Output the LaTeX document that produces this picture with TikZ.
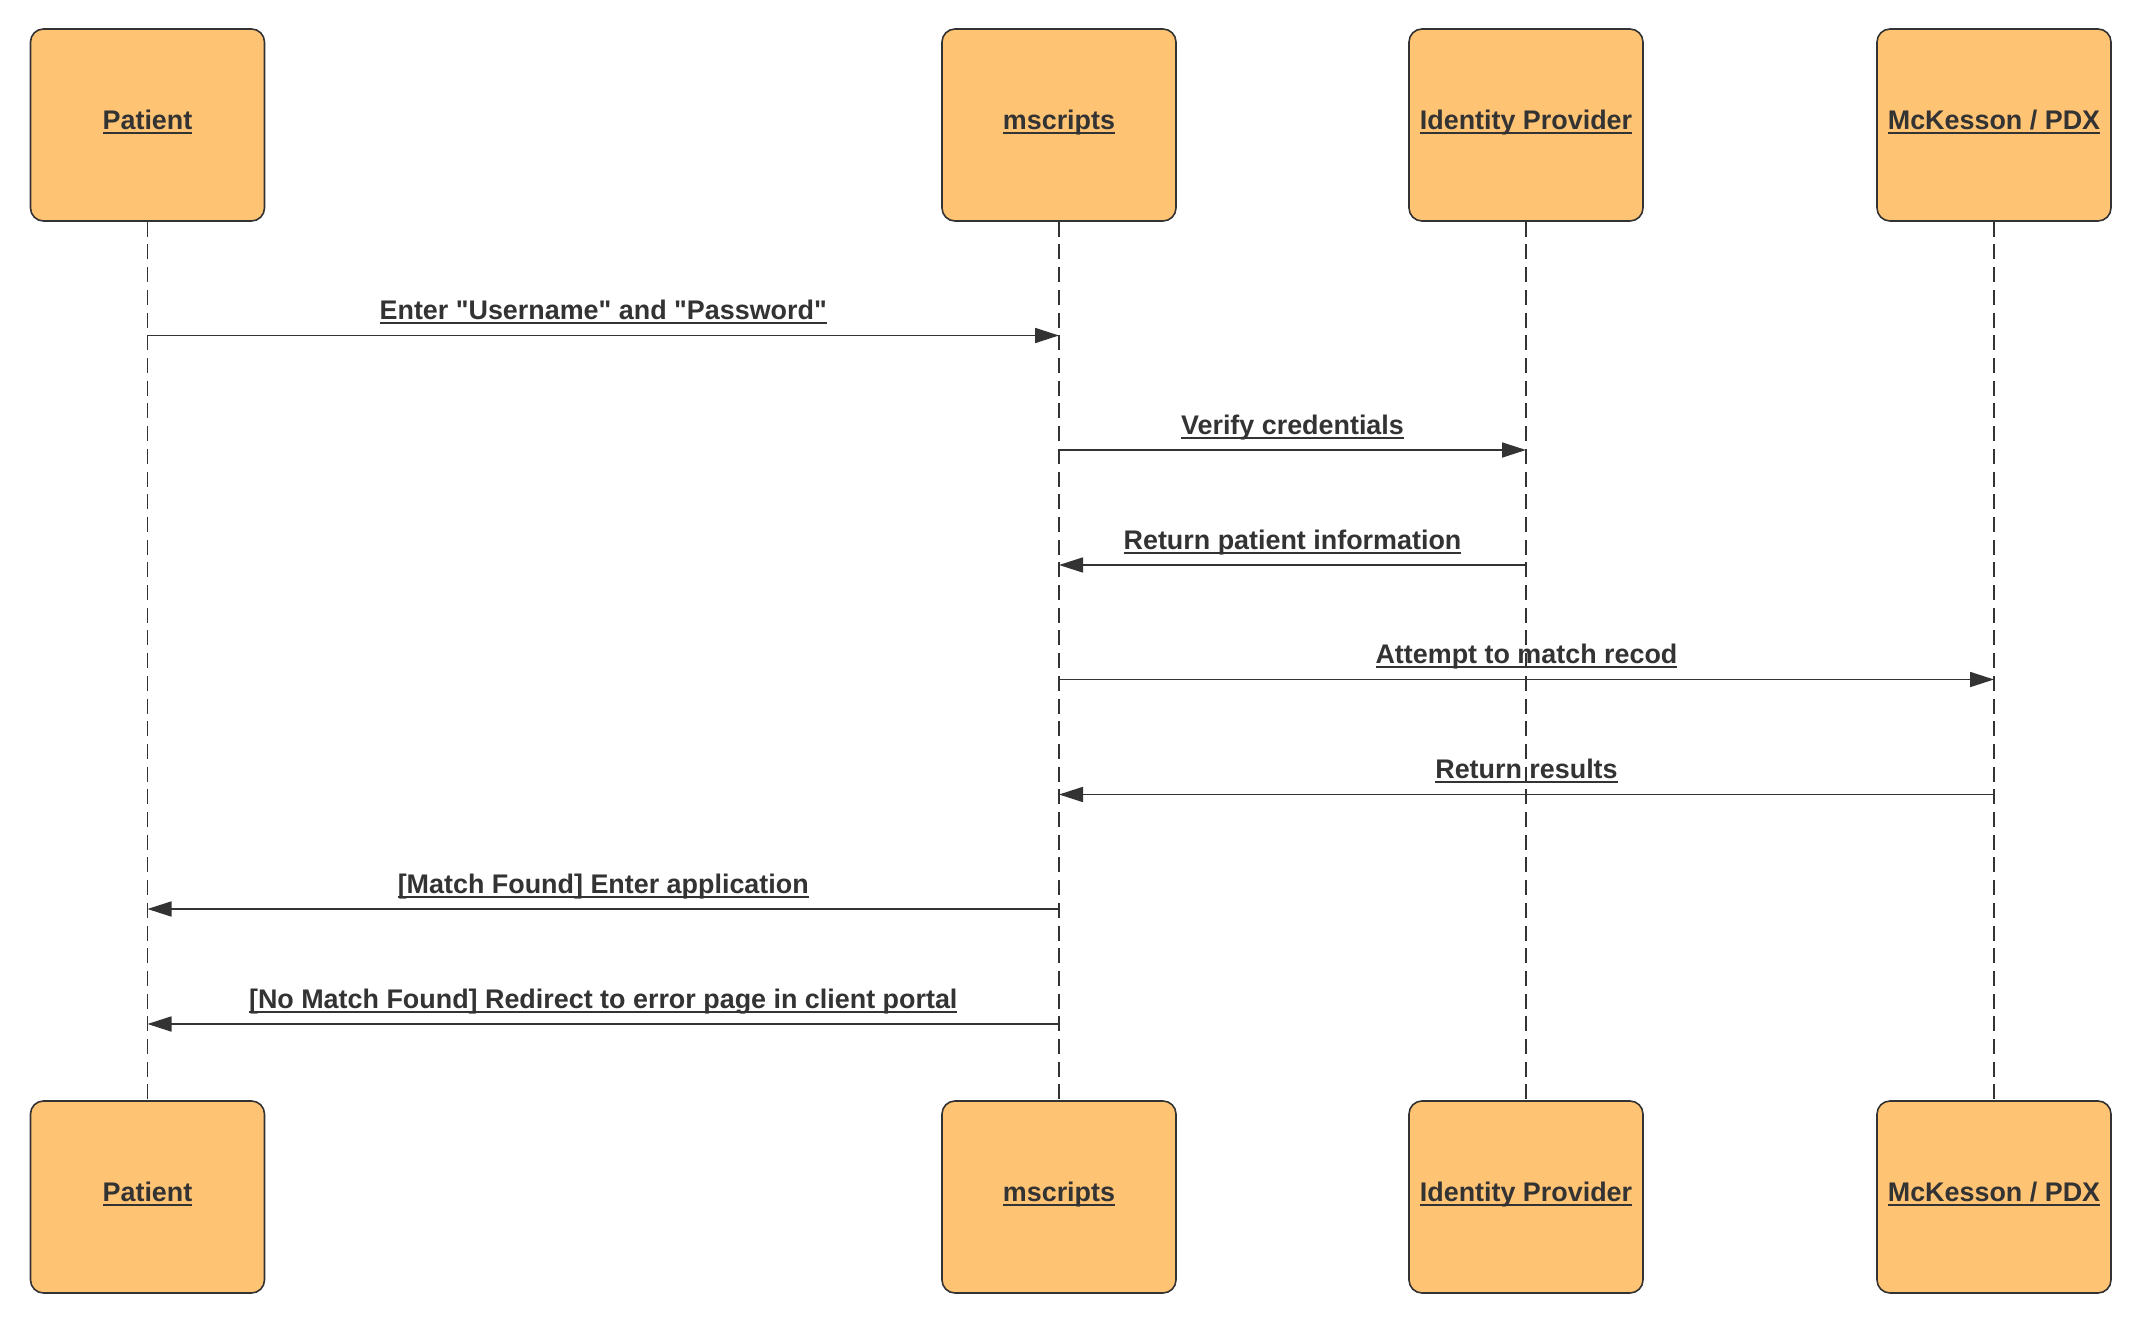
\documentclass[tikz,border=0pt]{standalone}
\usepackage{fontspec}
\setmainfont{Liberation Sans}
\usetikzlibrary{arrows.meta}
\definecolor{boxfill}{HTML}{FFC374}
\definecolor{ink}{HTML}{333333}
\newcommand{\ulx}[1]{\setbox0\hbox{#1}\rlap{\rule[-4.6pt]{\wd0}{1.9pt}}\box0}
\newcommand{\dq}{\XeTeXglyph\XeTeXglyphindex "quotedbl"\relax}
\begin{document}
\begin{tikzpicture}[x=1pt,y=-1pt,
  actor/.style={draw=ink, fill=boxfill, line width=1.6pt, rounded corners=13pt,
    minimum width=234pt, minimum height=192pt, inner sep=0pt, text depth=10.6pt,
    font=\fontsize{26.9}{31}\selectfont\bfseries, text=ink},
  life/.style={draw=ink, line width=1.6pt, dash pattern=on 15pt off 7.7pt},
  msg/.style={draw=ink, line width=1.7pt, -{Triangle[length=24pt,width=15pt]}},
  lbl/.style={font=\fontsize{26.9}{31}\selectfont\bfseries, text=ink, anchor=base, yshift=16pt, inner sep=0pt}]
\useasboundingbox (0,0) rectangle (2156,1340);
\fill[white] (0,0) rectangle (2156,1340);
\node[actor] (p1) at (147.5,125) {\ulx{Patient}};
\node[actor] (m1) at (1059,125) {\ulx{mscripts}};
\node[actor] (i1) at (1526,125) {\ulx{Identity Provider}};
\node[actor] (k1) at (1994,125) {\ulx{McKesson / PDX}};
\node[actor] (p2) at (147.5,1197) {\ulx{Patient}};
\node[actor] (m2) at (1059,1197) {\ulx{mscripts}};
\node[actor] (i2) at (1526,1197) {\ulx{Identity Provider}};
\node[actor] (k2) at (1994,1197) {\ulx{McKesson / PDX}};
\draw[life] (p1.south) -- (p2.north);
\draw[life] (m1.south) -- (m2.north);
\draw[life] (i1.south) -- (i2.north);
\draw[life] (k1.south) -- (k2.north);
\coordinate (r1) at (0,335.5);
\coordinate (r2) at (0,450);
\coordinate (r3) at (0,565);
\coordinate (r4) at (0,679.5);
\coordinate (r5) at (0,794.5);
\coordinate (r6) at (0,909);
\coordinate (r7) at (0,1024);
\draw[msg] (p1 |- r1) -- node[lbl] {\ulx{Enter \dq Username\dq{} and \dq Password\dq}} (m1 |- r1);
\draw[msg] (m1 |- r2) -- node[lbl] {\ulx{Verify credentials}} (i1 |- r2);
\draw[msg] (i1 |- r3) -- node[lbl] {\ulx{Return patient information}} (m1 |- r3);
\draw[msg] (m1 |- r4) -- node[lbl] {\ulx{Attempt to match recod}} (k1 |- r4);
\draw[msg] (k1 |- r5) -- node[lbl] {\ulx{Return results}} (m1 |- r5);
\draw[msg] (m1 |- r6) -- node[lbl] {\ulx{[Match Found] Enter application}} (p1 |- r6);
\draw[msg] (m1 |- r7) -- node[lbl] {\ulx{[No Match Found] Redirect to error page in client portal}} (p1 |- r7);
\end{tikzpicture}
\end{document}
